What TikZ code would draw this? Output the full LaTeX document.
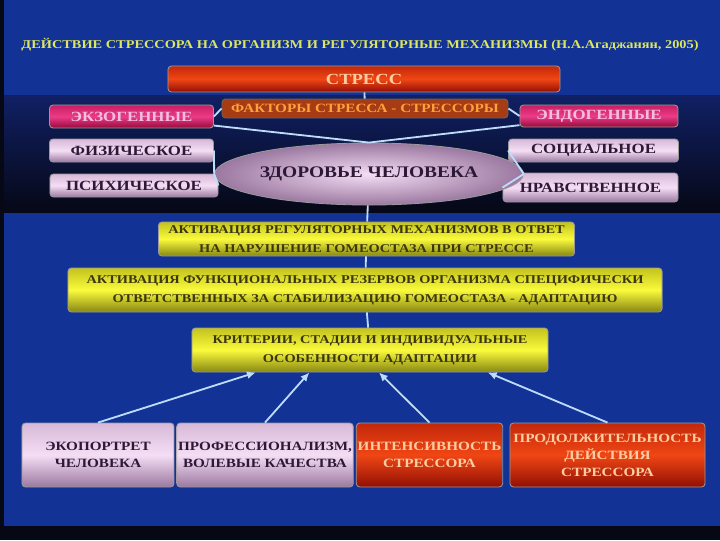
\documentclass[tikz,border=0pt]{standalone}
\usepackage{fontspec}
\newfontfamily\slidefont[FakeStretch=1.2]{Liberation Serif}
\usetikzlibrary{arrows.meta,positioning,shapes.geometric,calc}
\definecolor{sbg}{RGB}{18,50,150}
\definecolor{sdark}{RGB}{6,8,22}
\definecolor{snavy}{RGB}{16,32,100}
\definecolor{sline}{RGB}{190,220,250}
\definecolor{stitle}{RGB}{220,230,95}
\definecolor{sredtop}{RGB}{195,40,10}
\definecolor{sredmid}{RGB}{240,70,20}
\definecolor{sredbot}{RGB}{145,15,5}
\definecolor{sredtxt}{RGB}{255,205,160}
\definecolor{smagtop}{RGB}{200,30,100}
\definecolor{smagmid}{RGB}{235,60,135}
\definecolor{smagbot}{RGB}{150,10,60}
\definecolor{smagtxt}{RGB}{245,190,225}
\definecolor{slavtop}{RGB}{215,185,215}
\definecolor{slavmid}{RGB}{245,222,245}
\definecolor{slavbot}{RGB}{155,120,160}
\definecolor{slavtxt}{RGB}{45,25,55}
\definecolor{syeltop}{RGB}{195,195,30}
\definecolor{syelmid}{RGB}{250,250,60}
\definecolor{syelbot}{RGB}{135,135,20}
\definecolor{syeltxt}{RGB}{60,55,15}
\definecolor{sfacfill}{RGB}{165,60,20}
\definecolor{sfactxt}{RGB}{255,160,60}
\tikzset{
  sbox/.style={
    draw=black!40, line width=0.6pt, rounded corners=2.5pt,
    align=center, inner sep=1pt,
    font=\slidefont\bfseries\fontsize{10}{12}\selectfont
  },
  redbox/.style={sbox, top color=sredtop, bottom color=sredbot, middle color=sredmid, text=sredtxt},
  magbox/.style={sbox, top color=smagtop, bottom color=smagbot, middle color=smagmid, text=smagtxt},
  lavbox/.style={sbox, top color=slavtop, bottom color=slavbot, middle color=slavmid, text=slavtxt},
  yelbox/.style={sbox, top color=syeltop, bottom color=syelbot, middle color=syelmid, text=syeltxt,
    font=\slidefont\bfseries\fontsize{8.5}{13.5}\selectfont},
  facbox/.style={sbox, fill=sfacfill, text=sfactxt, draw=black!60,
    font=\slidefont\bfseries\fontsize{9}{11}\selectfont},
  bot/.style={minimum height=16mm, font=\slidefont\bfseries\fontsize{9}{12}\selectfont},
  link/.style={draw=sline, line width=1.3pt},
  uarr/.style={link, -{Latex[length=2.2mm,width=2mm]}},
  heading/.style={text=stitle, font=\slidefont\bfseries\fontsize{8.5}{10}\selectfont}
}
\begin{document}
\begin{tikzpicture}[x=0.025cm, y=-0.025cm]
  \useasboundingbox (0,0) rectangle (720,540);
  % backdrop
  \fill[sbg] (0,0) rectangle (720,540);
  \shade[top color=snavy, bottom color=sdark] (0,95) rectangle (720,212);
  \fill[sdark] (0,526) rectangle (720,540);
  \fill[sdark] (0,0) rectangle (4,540);

  \node[heading] (title) at (360,45)
    {ДЕЙСТВИЕ СТРЕССОРА НА ОРГАНИЗМ И РЕГУЛЯТОРНЫЕ МЕХАНИЗМЫ (Н.А.Агаджанян, 2005)};

  % upper block
  \node[redbox, minimum width=98mm, minimum height=6.5mm,
    font=\slidefont\bfseries\fontsize{11}{12}\selectfont] (stress) at (364,79) {СТРЕСС};
  \node[facbox, minimum width=71.5mm, minimum height=4.75mm] (factors) at (365,108.5)
    {ФАКТОРЫ СТРЕССА - СТРЕССОРЫ};
  \node[magbox, minimum width=41mm, minimum height=5.75mm] (exo) at (131.5,116.5) {ЭКЗОГЕННЫЕ};
  \node[magbox, minimum width=39.5mm, minimum height=5.5mm] (endo) at (599,116) {ЭНДОГЕННЫЕ};
  \node[lavbox, minimum width=41mm, minimum height=5.75mm] (phys) at (131.5,150.5) {ФИЗИЧЕСКОЕ};
  \node[lavbox, minimum width=42mm, minimum height=5.75mm] (psych) at (134,185.5) {ПСИХИЧЕСКОЕ};
  \node[lavbox, minimum width=42.5mm, minimum height=5.75mm] (social) at (593.5,150.5) {СОЦИАЛЬНОЕ};
  \node[lavbox, minimum width=43.75mm, minimum height=7.25mm] (moral) at (590.5,187.5) {НРАВСТВЕННОЕ};
  \node[ellipse, draw=black!40, line width=0.6pt, inner color=slavmid, outer color=slavbot,
    text=slavtxt, minimum width=58.5mm, minimum height=15.5mm, inner sep=0pt,
    font=\slidefont\bfseries\fontsize{11.5}{12}\selectfont] (health) at (369,174) {ЗДОРОВЬЕ ЧЕЛОВЕКА};

  % chain of yellow boxes
  \node[yelbox, minimum width=104mm, minimum height=8.5mm] (actreg) at (366.5,239)
    {АКТИВАЦИЯ РЕГУЛЯТОРНЫХ МЕХАНИЗМОВ В ОТВЕТ\\НА НАРУШЕНИЕ ГОМЕОСТАЗА ПРИ СТРЕССЕ};
  \node[yelbox, minimum width=148.5mm, minimum height=11mm] (actres) at (365,290)
    {АКТИВАЦИЯ ФУНКЦИОНАЛЬНЫХ РЕЗЕРВОВ ОРГАНИЗМА СПЕЦИФИЧЕСКИ\\ОТВЕТСТВЕННЫХ ЗА СТАБИЛИЗАЦИЮ ГОМЕОСТАЗА - АДАПТАЦИЮ};
  \node[yelbox, minimum width=89mm, minimum height=11mm] (crit) at (370,350)
    {КРИТЕРИИ, СТАДИИ И ИНДИВИДУАЛЬНЫЕ\\ОСОБЕННОСТИ АДАПТАЦИИ};

  % bottom row
  \node[lavbox, bot, minimum width=38mm] (eco) at (98,455) {ЭКОПОРТРЕТ\\ЧЕЛОВЕКА};
  \node[lavbox, bot, minimum width=42.5mm] (prof) at (265,455) {ПРОФЕССИОНАЛИЗМ,\\ВОЛЕВЫЕ КАЧЕСТВА};
  \node[redbox, bot, minimum width=36.25mm] (intens) at (429.5,455) {ИНТЕНСИВНОСТЬ\\СТРЕССОРА};
  \node[redbox, bot, minimum width=48.75mm] (dur) at (607.5,455) {ПРОДОЛЖИТЕЛЬНОСТЬ\\ДЕЙСТВИЯ\\СТРЕССОРА};

  % connectors
  \draw[link] (stress) -- (factors);
  \draw[link] (factors.west) -- (exo.east);
  \draw[link] (factors.east) -- (endo.west);
  \foreach \s in {exo,endo} \draw[link] (\s) -- (health.north);
  \foreach \s in {phys,psych} \draw[link] (\s.east) -- (health.west);
  \foreach \s in {social,moral} \draw[link] (\s.west) -- (health.east);
  \draw[link] (health) -- (actreg);
  \draw[link] (actreg) -- (actres);
  \draw[link] (actres) -- (crit);
  \foreach \b/\f in {eco/0.18,prof/0.33,intens/0.525,dur/0.83}
    \draw[uarr] (\b.north) -- ($(crit.south west)!\f!(crit.south east)$);
\end{tikzpicture}
\end{document}
